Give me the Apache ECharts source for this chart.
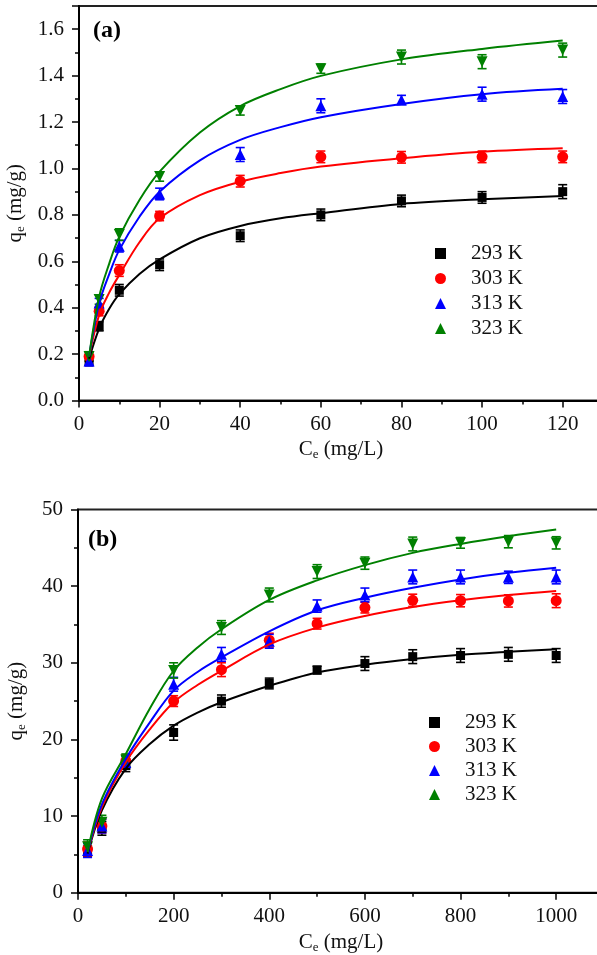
<!DOCTYPE html>
<html>
<head>
<meta charset="utf-8">
<script src="https://cdn.jsdelivr.net/npm/echarts@6/dist/echarts.min.js"></script>
<style>
html, body { margin: 0; padding: 0; background: #fff; }
#main1 { position: absolute; left: 0; top: 0; width: 597px; height: 475px; }
#main2 { position: absolute; left: 0; top: 475px; width: 597px; height: 480px; }
</style>
</head>
<body>
<div id="main1"></div>
<div id="main2"></div>
<script>
var names = ['293 K', '303 K', '313 K', '323 K'];
var colors = ['#000000', '#ff0000', '#0000ff', '#008000'];

// panel (a)
var xA = [2.5, 5, 10, 20, 40, 60, 80, 100, 120];
var qA293 = [0.17, 0.32, 0.475, 0.585, 0.71, 0.80, 0.86, 0.875, 0.90];
var qA303 = [0.19, 0.385, 0.56, 0.795, 0.945, 1.05, 1.048, 1.05, 1.05];
var qA313 = [0.17, 0.42, 0.665, 0.89, 1.06, 1.27, 1.295, 1.32, 1.31];
var qA323 = [0.19, 0.435, 0.715, 0.965, 1.25, 1.43, 1.48, 1.46, 1.51];
var errA293 = [0.02, 0.02, 0.025, 0.025, 0.025, 0.025, 0.025, 0.025, 0.03];
var errA303 = [0.02, 0.02, 0.025, 0.02, 0.025, 0.025, 0.025, 0.025, 0.025];
var errA313 = [0.02, 0.02, 0.025, 0.025, 0.03, 0.03, 0.02, 0.03, 0.03];
var errA323 = [0.02, 0.02, 0.025, 0.02, 0.02, 0.02, 0.03, 0.03, 0.03];
var xFitA = [2.5, 5, 7.5, 10, 15, 20, 30, 40, 50, 60, 80, 100, 120];
var fitA293 = [0.18, 0.31, 0.395, 0.458, 0.545, 0.608, 0.699, 0.752, 0.785, 0.807, 0.847, 0.867, 0.881];
var fitA303 = [0.19, 0.369, 0.465, 0.541, 0.682, 0.785, 0.885, 0.943, 0.98, 1.008, 1.044, 1.072, 1.087];
var fitA313 = [0.19, 0.419, 0.545, 0.649, 0.792, 0.90, 1.035, 1.123, 1.178, 1.221, 1.278, 1.32, 1.343];
var fitA323 = [0.19, 0.447, 0.59, 0.706, 0.864, 0.986, 1.155, 1.269, 1.342, 1.399, 1.47, 1.515, 1.551];

// panel (b)
var xB = [20, 50, 100, 200, 300, 400, 500, 600, 700, 800, 900, 1000];
var qB293 = [5.6, 8.4, 16.6, 20.9, 25.0, 27.3, 29.05, 29.9, 30.8, 30.95, 31.1, 30.95];
var qB303 = [5.7, 8.7, 17.2, 25.0, 29.1, 32.95, 35.1, 37.2, 38.15, 38.1, 38.07, 38.1];
var qB313 = [5.5, 8.7, 17.0, 27.2, 31.1, 32.8, 37.4, 38.85, 41.2, 41.2, 41.15, 41.2];
var qB323 = [6.0, 9.2, 17.3, 29.0, 34.6, 38.85, 41.9, 43.0, 45.5, 45.65, 45.8, 45.65];
var errB293 = [0.9, 0.9, 0.8, 1.0, 0.8, 0.7, 0.5, 0.9, 0.9, 0.9, 0.9, 0.9];
var errB303 = [0.9, 0.9, 0.8, 0.7, 0.9, 0.9, 0.7, 0.7, 0.8, 0.8, 0.8, 0.9];
var errB313 = [0.9, 0.9, 0.8, 0.9, 0.9, 0.9, 0.8, 0.9, 0.9, 0.9, 0.8, 0.9];
var errB323 = [0.9, 0.9, 0.8, 1.0, 0.9, 0.9, 0.9, 0.8, 0.9, 0.7, 0.8, 0.8];
var xFitB = [20, 50, 100, 150, 200, 250, 300, 400, 500, 600, 700, 800, 900, 1000];
var fitB293 = [5.1, 10.75, 16.2, 19.4, 21.8, 23.5, 24.85, 27.0, 28.74, 29.74, 30.48, 31.04, 31.43, 31.78];
var fitB303 = [5.3, 11.18, 17.03, 21.3, 24.84, 27.1, 28.96, 32.4, 34.59, 36.11, 37.28, 38.15, 38.84, 39.36];
var fitB313 = [5.3, 11.53, 17.48, 22.2, 26.36, 28.8, 30.69, 34.1, 36.85, 38.49, 39.79, 40.88, 41.74, 42.39];
var fitB323 = [5.3, 12.27, 18.1, 24.0, 28.96, 32.0, 34.38, 38.2, 40.75, 42.74, 44.34, 45.51, 46.51, 47.38];

var serif = 'Liberation Serif';
var symbols = ['rect', 'circle', 'triangle', 'triangle'];
var sizes = [9, 11, 11, 11];
var rotates = [0, 0, 0, 180];

var isotherm = (function () {
    var Return = {
        init: function () {
            initChart('main1', {
                label: '(a)', xs: xA, qs: [qA293, qA303, qA313, qA323],
                errs: [errA293, errA303, errA313, errA323],
                fx: xFitA, fits: [fitA293, fitA303, fitA313, fitA323],
                grid: { left: 79, right: -6, top: 6, bottom: 74.5 },
                x: { max: 130, interval: 20 }, y: { max: 1.7, interval: 0.2, digits: 1, showMax: false },
                title: { left: 93, top: 19 },
                legend: { left: 435, top: 243, itemGap: 4 }
            });
            initChart('main2', {
                label: '(b)', xs: xB, qs: [qB293, qB303, qB313, qB323],
                errs: [errB293, errB303, errB313, errB323],
                fx: xFitB, fits: [fitB293, fitB303, fitB313, fitB323],
                grid: { left: 78, right: -7, top: 34.5, bottom: 62.3 },
                x: { max: 1100, interval: 200 }, y: { max: 50, interval: 10, digits: 0, showMax: true },
                title: { left: 88, top: 53 },
                legend: { left: 429, top: 237, itemGap: 3 }
            });
        }
    }
    var pairs = function (xs, ys) {
        var out = [];
        for (var i = 0; i < xs.length; i++) out.push([xs[i], ys[i]]);
        return out;
    }
    var bars = function (xs, ys, es) {
        var out = [];
        for (var i = 0; i < xs.length; i++) out.push([xs[i], ys[i] - es[i], ys[i] + es[i]]);
        return out;
    }
    var errorItem = function (params, api) {
        var x = api.value(0);
        var hi = api.coord([x, api.value(2)]);
        var lo = api.coord([x, api.value(1)]);
        var w = 4.5;
        var style = { stroke: api.visual('color'), lineWidth: 1.6 };
        return {
            type: 'group',
            children: [
                { type: 'line', shape: { x1: hi[0], y1: hi[1], x2: lo[0], y2: lo[1] }, style: style },
                { type: 'line', shape: { x1: hi[0] - w, y1: hi[1], x2: hi[0] + w, y2: hi[1] }, style: style },
                { type: 'line', shape: { x1: lo[0] - w, y1: lo[1], x2: lo[0] + w, y2: lo[1] }, style: style }
            ]
        };
    }
    var axisCommon = function () {
        return {
            axisLine: { lineStyle: { color: '#000', width: 2 } },
            axisTick: { inside: false, length: 7, lineStyle: { color: '#000', width: 1.5 } },
            minorTick: { show: true, splitNumber: 2, length: 4, lineStyle: { color: '#000', width: 1.5 } },
            splitLine: { show: false },
            nameTextStyle: { fontFamily: serif, fontSize: 21, color: '#111',
                rich: {
                    n: { fontFamily: serif, fontSize: 21, color: '#111' },
                    s: { fontFamily: serif, fontSize: 13, color: '#111', padding: [10, 0, 0, 0] }
                }
            }
        };
    }
    var initChart = function (id, cfg) {
        var myChart = echarts.init(document.getElementById(id));
        var series = [];
        for (var k = 0; k < 4; k++) {
            series.push({
                name: 'fit ' + names[k],
                type: 'line',
                data: pairs(cfg.fx, cfg.fits[k]),
                smooth: 0.35,
                showSymbol: false,
                lineStyle: { color: colors[k], width: 2 },
                z: 3
            });
            series.push({
                name: names[k] + ' err',
                type: 'custom',
                renderItem: errorItem,
                data: bars(cfg.xs, cfg.qs[k], cfg.errs[k]),
                encode: { x: 0, y: [1, 2] },
                itemStyle: { color: colors[k] },
                z: 2
            });
            series.push({
                name: names[k],
                type: 'scatter',
                data: pairs(cfg.xs, cfg.qs[k]),
                symbol: symbols[k],
                symbolSize: sizes[k],
                symbolRotate: rotates[k],
                itemStyle: { color: colors[k], opacity: 1 },
                z: 2
            });
        }
        var xAxis = axisCommon();
        xAxis.type = 'value';
        xAxis.min = 0;
        xAxis.max = cfg.x.max;
        xAxis.interval = cfg.x.interval;
        xAxis.name = '{n|C}{s|e}{n| (mg/L)}';
        xAxis.nameLocation = 'middle';
        xAxis.nameGap = 36;
        xAxis.axisLabel = {
            fontFamily: serif, fontSize: 21, color: '#111', margin: 13, showMaxLabel: false,
            formatter: function (v) { return String(v); }
        };

        var yAxis = axisCommon();
        yAxis.type = 'value';
        yAxis.min = 0;
        yAxis.max = cfg.y.max;
        yAxis.interval = cfg.y.interval;
        yAxis.name = '{n|q}{s|e}{n| (mg/g)}';
        yAxis.nameLocation = 'middle';
        yAxis.nameGap = 50;
        yAxis.axisLabel = {
            fontFamily: serif, fontSize: 21, color: '#111', margin: 15, showMaxLabel: cfg.y.showMax,
            formatter: function (v) { return v.toFixed(cfg.y.digits); }
        };

        var option = {
            animation: false,
            backgroundColor: '#fff',
            title: {
                text: cfg.label,
                left: cfg.title.left,
                top: cfg.title.top,
                padding: 0,
                textStyle: { fontFamily: serif, fontSize: 24, fontWeight: 'bold', color: '#000' }
            },
            legend: {
                data: names,
                orient: 'vertical',
                left: cfg.legend.left,
                top: cfg.legend.top,
                itemGap: cfg.legend.itemGap,
                itemWidth: 11,
                itemHeight: 11,
                padding: 0,
                textStyle: { fontFamily: serif, fontSize: 21, lineHeight: 20, color: '#111', padding: [0, 0, 0, 20] }
            },
            grid: {
                left: cfg.grid.left,
                right: cfg.grid.right,
                top: cfg.grid.top,
                bottom: cfg.grid.bottom,
                outerBoundsMode: 'none',
                containLabel: false,
                show: true,
                borderColor: '#222',
                borderWidth: 2
            },
            xAxis: xAxis,
            yAxis: yAxis,
            series: series
        };
        myChart.setOption(option);
    }
    return Return;
})();

; (function () {
    isotherm.init();
})();
</script>
</body>
</html>
